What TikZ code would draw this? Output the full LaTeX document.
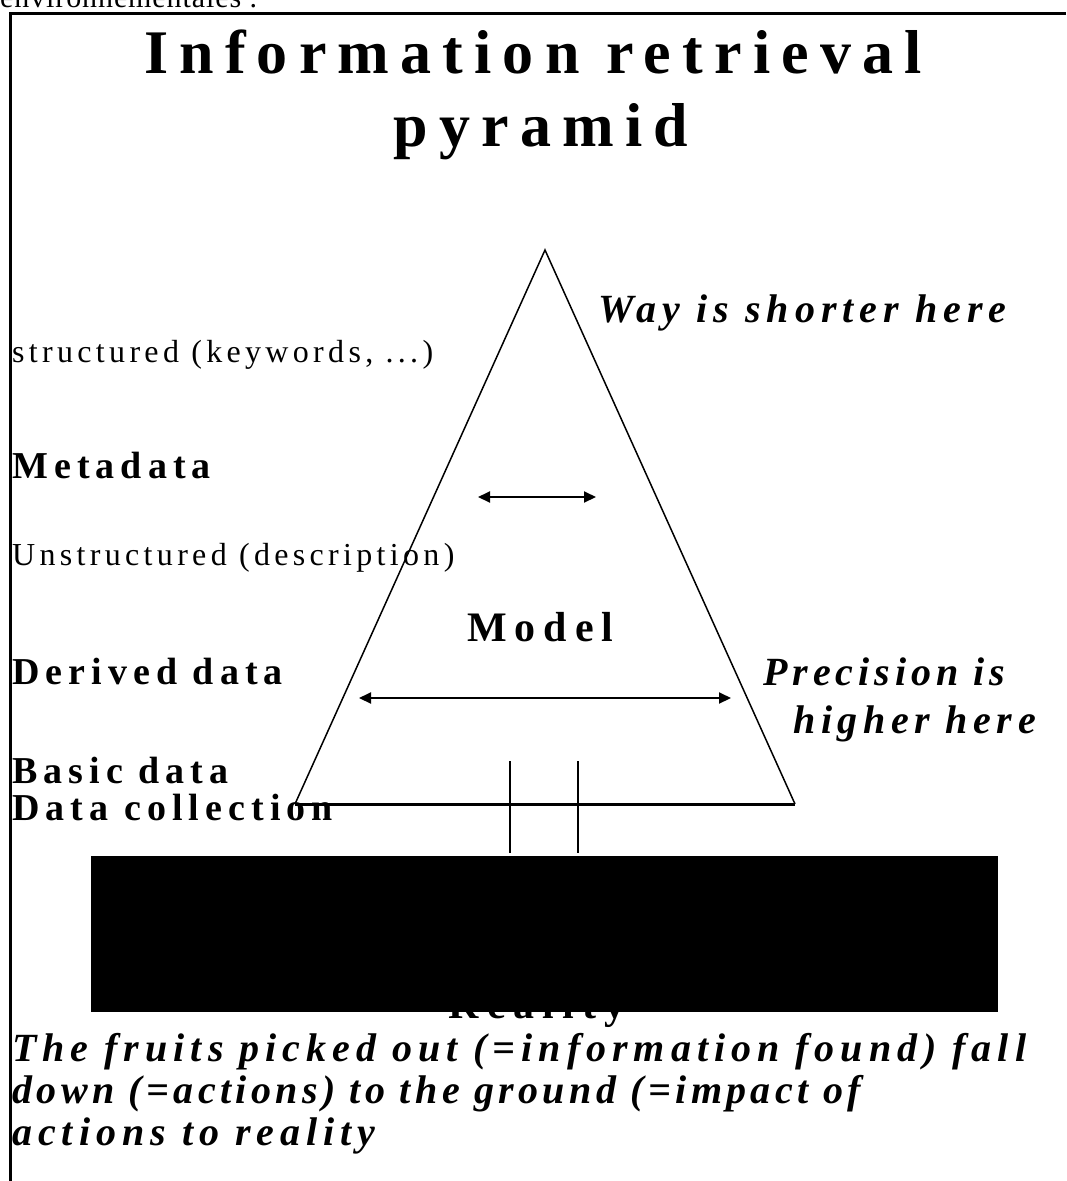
\documentclass[tikz,border=0pt]{standalone}
\usepackage{fontspec}
\setmainfont{Liberation Serif}
\usetikzlibrary{arrows.meta}
\begin{document}
\begin{tikzpicture}[x=1pt,y=-1pt,
  lbl/.style={inner sep=0pt, anchor=base west},
  titlelbl/.style={inner sep=0pt, anchor=base, font=\fontsize{62}{70}\selectfont\bfseries\addfontfeature{LetterSpace=18}},
  boldlbl/.style={lbl, font=\fontsize{38}{42}\selectfont\bfseries\addfontfeature{LetterSpace=16}},
  plainlbl/.style={lbl, font=\fontsize{32}{36}\selectfont\addfontfeature{LetterSpace=13.5}},
  bilbl/.style={lbl, font=\fontsize{40}{44}\selectfont\bfseries\itshape\addfontfeature{LetterSpace=15}},
  dblarrow/.style={{Triangle[length=12pt,width=11pt]}-{Triangle[length=12pt,width=11pt]}, line width=2pt},
  frameline/.style={line width=3pt},
  side/.style={line width=1.5pt},
]
\useasboundingbox (0,0) rectangle (1066,1181);
\clip (0,0) rectangle (1066,1181);

% cut-off text at the top
\node[lbl, font=\fontsize{30}{34}\selectfont\addfontfeature{LetterSpace=3}] (topcut) at (0,7) {environnementales .};

% frame
\coordinate (ftr) at (1066,13);
\coordinate (ftl) at (10,13);
\coordinate (fbl) at (10,1181);
\draw[frameline] (ftr) -- (ftl) -- (fbl);

% title
\node[titlelbl] (title1) at (533,73) {Information retrieval};
\node[titlelbl] (title2) at (541,146) {pyramid};

% pyramid
\coordinate (apex) at (545,250);
\coordinate (bl) at (295,804);
\coordinate (br) at (795,804);
\draw[side] (bl) -- (apex) -- (br);
\draw[frameline] (bl) -- (br);

% arrows
\coordinate (a1l) at (478,497);
\coordinate (a1r) at (596,497);
\draw[dblarrow] (a1l) -- (a1r);
\coordinate (a2l) at (359,698);
\coordinate (a2r) at (731,698);
\draw[dblarrow] (a2l) -- (a2r);

% left labels
\node[plainlbl] (struct) at (12,362) {structured (keywords, ...)};
\node[boldlbl] (meta) at (12,478) {Metadata};
\node[plainlbl] (unstruct) at (12,565) {Unstructured (description)};
\node[boldlbl] (derived) at (12,684) {Derived data};
\node[boldlbl] (basic) at (12,783) {Basic data};
\node[boldlbl] (collect) at (12,820) {Data collection};

% model
\node[boldlbl, font=\fontsize{42}{46}\selectfont\bfseries\addfontfeature{LetterSpace=19}] (model) at (467,641) {Model};

% right labels
\node[bilbl] (way) at (598,322) {Way is shorter here};
\node[bilbl, font=\fontsize{40}{44}\selectfont\bfseries\itshape\addfontfeature{LetterSpace=12.5}] (prec) at (763,685) {Precision is};
\node[bilbl, font=\fontsize{40}{44}\selectfont\bfseries\itshape\addfontfeature{LetterSpace=14}] (higher) at (793,733) {higher here};

% reality (behind black box)
\node[boldlbl, anchor=base, font=\fontsize{42}{46}\selectfont\bfseries\addfontfeature{LetterSpace=19}] (reality) at (537,1018) {Reality};
\node[fill=black, inner sep=0pt, minimum width=907pt, minimum height=156pt, anchor=north west] (box) at (91,856) {};

% two vertical lines
\coordinate (v1t) at (510,761);
\coordinate (v1b) at (510,853);
\coordinate (v2t) at (578,761);
\coordinate (v2b) at (578,853);
\draw[side] (v1t) -- (v1b);
\draw[side] (v2t) -- (v2b);

% footer
\node[bilbl] (foot1) at (12,1061) {The fruits picked out (=information found) fall};
\node[bilbl, font=\fontsize{40}{44}\selectfont\bfseries\itshape\addfontfeature{LetterSpace=11}] (foot2) at (12,1103) {down (=actions) to the ground (=impact of};
\node[bilbl] (foot3) at (12,1145) {actions to reality};
\end{tikzpicture}
\end{document}
